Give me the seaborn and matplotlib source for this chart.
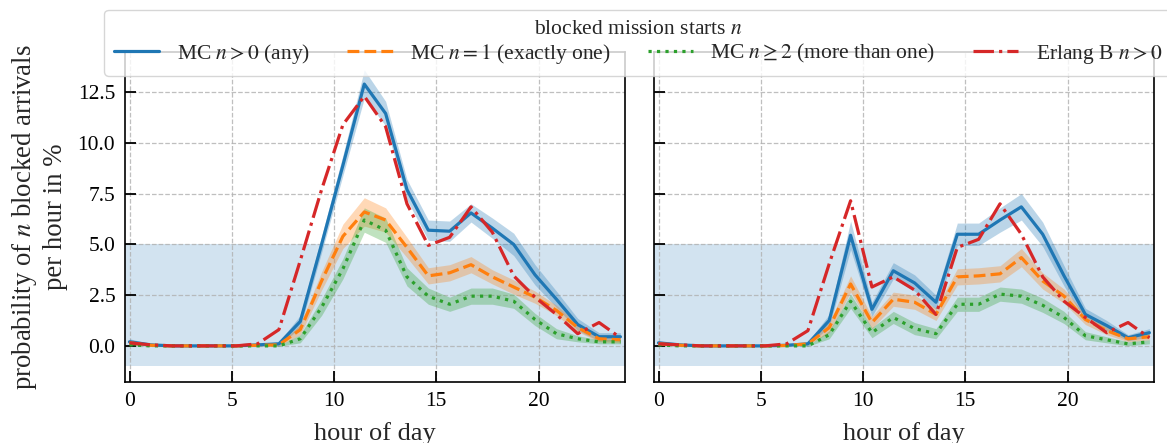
import numpy as np
import pandas as pd
import matplotlib
matplotlib.use("Agg")
import matplotlib.pyplot as plt
import seaborn as sns

# ---------------- data ----------------
hour_pos = np.linspace(0, 24, 24)  # 24 hourly samples drawn across 0..24

# left panel
mc_any_L = [0.2, 0.05, 0, 0, 0, 0, 0.05, 0.1, 1.2, 5.0, 8.9, 12.9, 11.45, 7.7, 5.7, 5.65, 6.55, 5.8, 5.0, 3.5, 2.3, 1.05, 0.45, 0.45]
mc_one_L = [0.15, 0.03, 0, 0, 0, 0, 0.03, 0.05, 0.8, 3.2, 5.4, 6.6, 6.2, 4.85, 3.45, 3.6, 4.0, 3.4, 2.9, 2.4, 1.75, 0.9, 0.35, 0.3]
mc_two_L = [0.05, 0, 0, 0, 0, 0, 0, 0, 0.35, 1.9, 3.8, 6.2, 5.7, 3.4, 2.45, 2.05, 2.45, 2.45, 2.2, 1.3, 0.6, 0.35, 0.2, 0.2]
erlang_L = [0.15, 0.05, 0, 0, 0, 0, 0.1, 0.8, 4.2, 7.7, 10.9, 12.3, 10.8, 7.0, 4.95, 5.35, 6.85, 5.6, 3.45, 2.4, 1.55, 0.6, 1.15, 0.4]
ci_any_L = [0.15, 0.05, 0, 0, 0, 0, 0.05, 0.1, 0.3, 0.4, 0.5, 0.7, 0.6, 0.5, 0.5, 0.5, 0.45, 0.5, 0.55, 0.5, 0.4, 0.3, 0.2, 0.2]
ci_one_L = [0.1, 0.03, 0, 0, 0, 0, 0.03, 0.05, 0.25, 0.45, 0.6, 0.7, 0.6, 0.5, 0.4, 0.4, 0.4, 0.35, 0.35, 0.3, 0.25, 0.2, 0.15, 0.15]
ci_two_L = [0.05, 0, 0, 0, 0, 0, 0, 0.02, 0.2, 0.4, 0.5, 0.6, 0.6, 0.45, 0.4, 0.35, 0.4, 0.4, 0.35, 0.3, 0.25, 0.15, 0.1, 0.1]

# right panel
mc_any_R = [0.15, 0.05, 0, 0, 0, 0, 0.03, 0.1, 1.25, 5.45, 1.8, 3.7, 3.1, 2.15, 5.5, 5.5, 6.2, 6.85, 5.5, 3.45, 1.55, 1.0, 0.4, 0.65]
mc_one_R = [0.1, 0.03, 0, 0, 0, 0, 0.02, 0.1, 0.9, 3.05, 1.15, 2.3, 2.15, 1.55, 3.4, 3.45, 3.55, 4.35, 3.2, 2.45, 1.3, 0.75, 0.35, 0.45]
mc_two_R = [0.05, 0, 0, 0, 0, 0, 0, 0, 0.55, 2.2, 0.65, 1.4, 0.85, 0.6, 2.05, 2.05, 2.55, 2.45, 2.0, 1.4, 0.5, 0.3, 0.1, 0.2]
erlang_R = [0.1, 0.05, 0, 0, 0, 0, 0.1, 0.75, 4.05, 7.15, 2.9, 3.4, 2.75, 1.55, 4.85, 5.25, 7.0, 5.5, 3.4, 2.2, 1.4, 0.65, 1.15, 0.4]
ci_any_R = [0.1, 0.03, 0, 0, 0, 0, 0.03, 0.1, 0.3, 0.7, 0.35, 0.4, 0.4, 0.35, 0.55, 0.55, 0.6, 0.65, 0.6, 0.5, 0.3, 0.25, 0.15, 0.2]
ci_one_R = [0.08, 0.02, 0, 0, 0, 0, 0.02, 0.05, 0.25, 0.4, 0.3, 0.35, 0.35, 0.3, 0.4, 0.4, 0.4, 0.45, 0.4, 0.35, 0.25, 0.2, 0.15, 0.15]
ci_two_R = [0.05, 0, 0, 0, 0, 0, 0, 0.02, 0.2, 0.35, 0.25, 0.3, 0.3, 0.25, 0.35, 0.35, 0.35, 0.35, 0.35, 0.3, 0.2, 0.15, 0.1, 0.1]

labels = [r"MC $n>0$ (any)", r"MC $n=1$ (exactly one)",
          r"MC $n\geq2$ (more than one)", r"Erlang B $n>0$"]
legend_title = r"blocked mission starts $n$"
xticks = [0, 5, 10, 15, 20]
yticks = [0.0, 2.5, 5.0, 7.5, 10.0, 12.5]

# ---------------- style ----------------
sns.set_theme(style="ticks")
plt.rcParams["font.family"] = ["Liberation Serif", "DejaVu Serif"]
plt.rcParams["mathtext.fontset"] = "stix"
plt.rcParams["axes.edgecolor"] = "black"
plt.rcParams["axes.linewidth"] = 1.2

colors = ["#1f77b4", "#ff7f0e", "#2ca02c", "#d62728"]
styles = ["-", "--", ":", "-."]

W, H = 1167, 443
fig = plt.figure(figsize=(W / 100, H / 100), dpi=100)
ax1 = fig.add_axes([125 / W, 1 - 382 / H, 499.5 / W, 330 / H])
ax2 = fig.add_axes([654 / W, 1 - 382 / H, 499.5 / W, 330 / H], sharey=ax1)

panels = [
    (ax1, [mc_any_L, mc_one_L, mc_two_L, erlang_L], [ci_any_L, ci_one_L, ci_two_L]),
    (ax2, [mc_any_R, mc_one_R, mc_two_R, erlang_R], [ci_any_R, ci_one_R, ci_two_R]),
]

for ax, series, cis in panels:
    ax.axhspan(-1, 5, color=colors[0], alpha=0.2, lw=0, zorder=0.5)
    for i, vals in enumerate(series):
        vals = np.asarray(vals, dtype=float)
        df = pd.DataFrame({"hour": hour_pos, "p": vals})
        if i < 3:
            ci = np.asarray(cis[i], dtype=float)
            ax.fill_between(hour_pos, vals - ci, vals + ci, color=colors[i],
                            alpha=0.3, lw=0, zorder=1)
        sns.lineplot(data=df, x="hour", y="p", ax=ax, color=colors[i],
                     linestyle=styles[i], lw=2.3, label=labels[i], legend=False,
                     zorder=3)
    ax.set_xlim(-0.22, 24.2)
    ax.set_ylim(-1.78, 14.48)
    ax.set_xticks(xticks)
    ax.set_yticks(yticks)
    ax.grid(True, linestyle="--", color="#b0b0b0", lw=0.9, alpha=0.8)
    ax.tick_params(direction="in", length=8, width=1.3, labelsize=15.5, pad=7,
                   colors="black")
    ax.set_xlabel("hour of day", fontsize=19, labelpad=8)
    ax.set_ylabel("")
    for s in ax.spines.values():
        s.set_color("black")
        s.set_linewidth(1.2)

ax1.set_yticklabels(["0.0", "2.5", "5.0", "7.5", "10.0", "12.5"])
ax2.tick_params(labelleft=False)
ax1.set_ylabel("probability of $n$ blocked arrivals\nper hour in %", fontsize=19.3,
               linespacing=1.2)
ax1.yaxis.set_label_coords(-0.114, 0.5)

handles = [h for h in ax1.get_lines() if h.get_label() in labels]
leg = fig.legend(handles, labels, loc="upper center",
                 bbox_to_anchor=(638 / W, 1 - 10 / H), ncol=4,
                 title=legend_title, fontsize=15.5, title_fontsize=15.5,
                 frameon=True, framealpha=0.8, edgecolor="#cccccc",
                 handlelength=2.1, columnspacing=1.75, handletextpad=0.8,
                 borderpad=0.45, labelspacing=0.15, borderaxespad=0,
                 fancybox=True)
leg.get_frame().set_linewidth(1.0)

fig.savefig("out.png", dpi=100)
